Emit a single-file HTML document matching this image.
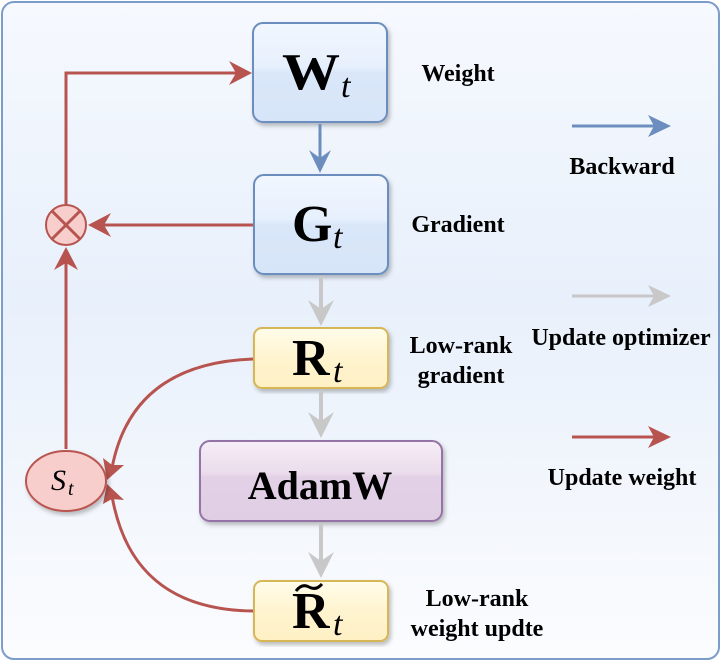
<!DOCTYPE html>
<html><head><style>
body{margin:0;background:#fff}
text{font-family:"Liberation Serif",serif;font-weight:bold}
text.it{font-style:italic;font-weight:normal}
</style></head><body>
<svg width="722" height="662" xmlns="http://www.w3.org/2000/svg">
<defs>
<linearGradient id="bg" x1="0" y1="0" x2="0" y2="1"><stop offset="0" stop-color="#f6f9fe"/><stop offset="0.45" stop-color="#e8f0fb"/><stop offset="1" stop-color="#fbfcfe"/></linearGradient>
<linearGradient id="bl" x1="0" y1="0" x2="0" y2="1"><stop offset="0" stop-color="#f2f7fe"/><stop offset="0.45" stop-color="#e6effc"/><stop offset="0.5" stop-color="#d9e7f9"/><stop offset="1" stop-color="#d6e5f8"/></linearGradient>
<linearGradient id="ye" x1="0" y1="0" x2="0" y2="1"><stop offset="0" stop-color="#fffcea"/><stop offset="0.5" stop-color="#fff4cf"/><stop offset="1" stop-color="#fff0c4"/></linearGradient>
<linearGradient id="pu" x1="0" y1="0" x2="0" y2="1"><stop offset="0" stop-color="#f5eef6"/><stop offset="0.4" stop-color="#ebdcec"/><stop offset="0.45" stop-color="#e2d1e6"/><stop offset="1" stop-color="#e0cfe4"/></linearGradient>
<filter id="sh"><feDropShadow dx="2" dy="3" stdDeviation="2" flood-opacity="0.25"/></filter>
</defs>
<rect x="2" y="2" width="717" height="657" rx="12" fill="url(#bg)" stroke="#7c9cca" stroke-width="2"/>
<rect x="253" y="23" width="134" height="99" rx="10" fill="url(#bl)" stroke="#6c8ebf" stroke-width="2" filter="url(#sh)"/>
<rect x="254" y="175" width="134" height="99" rx="10" fill="url(#bl)" stroke="#6c8ebf" stroke-width="2" filter="url(#sh)"/>
<rect x="254" y="328" width="134" height="60" rx="8" fill="url(#ye)" stroke="#d6b656" stroke-width="2" filter="url(#sh)"/>
<rect x="200" y="441" width="242" height="80" rx="10" fill="url(#pu)" stroke="#9673a6" stroke-width="2" filter="url(#sh)"/>
<rect x="254" y="581" width="134" height="60" rx="8" fill="url(#ye)" stroke="#d6b656" stroke-width="2" filter="url(#sh)"/>
<text x="282" y="89" font-size="52" textLength="58" lengthAdjust="spacingAndGlyphs">W</text><text x="341" y="97" font-size="34" class="it">t</text>
<text x="292" y="241" font-size="52">G</text><text x="333" y="248" font-size="34" class="it">t</text>
<text x="292" y="375" font-size="52">R</text><text x="333" y="382" font-size="34" class="it">t</text>
<text x="320" y="499" font-size="40" text-anchor="middle">AdamW</text>
<text x="292" y="628" font-size="52">R</text><text x="333" y="635" font-size="34" class="it">t</text>
<path d="M296,591 Q302,583 309,587 Q316,591 322,584" fill="none" stroke="#000" stroke-width="3"/>
<line x1="320" y1="124" x2="320" y2="166" stroke="#6c8ebf" stroke-width="3"/>
<path d="M309,150 L320,173 L331,150 L320,158z" fill="#6c8ebf"/>
<line x1="321" y1="276" x2="321" y2="318" stroke="#c8c8c8" stroke-width="4"/>
<path d="M308,300 L321,326 L334,300 L321,309z" fill="#c8c8c8"/>
<line x1="321" y1="390" x2="321" y2="432" stroke="#c8c8c8" stroke-width="4"/>
<path d="M308,412 L321,438 L334,412 L321,421z" fill="#c8c8c8"/>
<line x1="321" y1="523" x2="321" y2="572" stroke="#c8c8c8" stroke-width="4"/>
<path d="M308,552 L321,578 L334,552 L321,561z" fill="#c8c8c8"/>
<path d="M66,205 V73 H245" fill="none" stroke="#b85450" stroke-width="3"/>
<path d="M229,61 L252,73 L229,85 L236,73z" fill="#b85450"/>
<path d="M253,225 H96" fill="none" stroke="#b85450" stroke-width="3"/>
<path d="M111,213 L88,225 L111,237 L104,225z" fill="#b85450"/>
<path d="M66,449 V256" fill="none" stroke="#b85450" stroke-width="3"/>
<path d="M54,270 L66,247 L78,270 L66,263z" fill="#b85450"/>
<path d="M253,359 C170,362 125,400 112,468" fill="none" stroke="#b85450" stroke-width="3"/>
<path d="M103,458 L107,480 L124,465 L112,465z" fill="#b85450"/>
<path d="M253,611 C170,610 125,570 112,496" fill="none" stroke="#b85450" stroke-width="3"/>
<path d="M103,504 L107,484 L124,500 L112,499z" fill="#b85450"/>
<circle cx="66" cy="225" r="20" fill="#f8cecc" stroke="#b85450" stroke-width="2"/>
<path d="M52,211 L80,239 M80,211 L52,239" stroke="#b85450" stroke-width="3"/>
<ellipse cx="66" cy="481" rx="40" ry="30" fill="#f8cecc" stroke="#b85450" stroke-width="2" filter="url(#sh)"/>
<text x="51" y="490" font-size="30" class="it">S</text><text x="68" y="495" font-size="20" class="it">t</text>
<text x="458" y="81" font-size="24" text-anchor="middle">Weight</text>
<text x="458" y="232" font-size="24" text-anchor="middle">Gradient</text>
<text x="461" y="353" font-size="24" text-anchor="middle">Low-rank</text>
<text x="461" y="383" font-size="24" text-anchor="middle">gradient</text>
<text x="477" y="606" font-size="24" text-anchor="middle">Low-rank</text>
<text x="477" y="636" font-size="24" text-anchor="middle">weight updte</text>
<line x1="572" y1="126" x2="660" y2="126" stroke="#6c8ebf" stroke-width="3"/>
<path d="M648,115 L671,126 L648,137 L654,126z" fill="#6c8ebf"/>
<text x="622" y="174" font-size="24" text-anchor="middle">Backward</text>
<line x1="572" y1="296" x2="660" y2="296" stroke="#c8c8c8" stroke-width="3"/>
<path d="M648,285 L671,296 L648,307 L654,296z" fill="#c8c8c8"/>
<text x="621" y="345" font-size="24" text-anchor="middle">Update optimizer</text>
<line x1="572" y1="437" x2="660" y2="437" stroke="#b85450" stroke-width="3"/>
<path d="M648,426 L671,437 L648,448 L654,437z" fill="#b85450"/>
<text x="622" y="485" font-size="24" text-anchor="middle">Update weight</text>
</svg>
</body></html>
